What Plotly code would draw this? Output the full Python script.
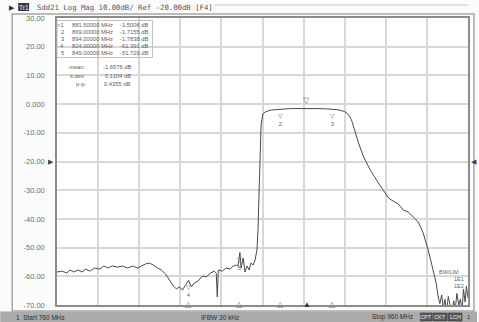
import plotly.graph_objects as go

# ---- data ----
freq_mhz = [760.0, 762.4, 764.8, 766.3, 768.2, 770.2, 772.1, 774.0, 776.0, 778.4,
            780.8, 782.8, 784.7, 787.1, 789.5, 792.0, 794.4, 796.8, 799.2, 801.2,
            803.1, 805.0, 807.0, 808.9, 810.8, 812.8, 814.7, 816.7, 818.1, 819.6,
            821.0, 822.5, 824.0, 825.4, 826.8, 828.8, 830.7, 832.6, 834.6, 836.5,
            837.5, 838.0, 838.5, 840.4, 842.3, 844.3, 845.7, 847.2, 848.1, 849.0,
            849.6, 850.6, 851.5, 852.5, 853.5, 854.4, 855.4, 856.4, 857.3, 857.8,
            858.3, 858.8, 859.3, 860.2, 861.7, 864.0, 866.5, 869.0, 872.0, 875.0,
            878.0, 881.5, 885.0, 888.0, 891.0, 894.0, 897.0, 900.0, 902.0, 903.3,
            904.3, 906.7, 909.2, 912.5, 916.4, 921.3, 922.7, 926.1, 928.5, 930.9,
            934.3, 935.8, 938.2, 940.6, 943.0, 944.5, 945.5, 946.3, 947.2, 948.0,
            948.8, 949.6, 950.4, 951.3, 952.1, 953.0, 953.8, 954.6, 955.5, 956.3,
            957.1, 957.8, 958.6, 959.2, 960.0]
s21_db = [-58.5, -58.2, -58.9, -57.8, -58.5, -57.8, -58.5, -57.5, -58.2, -57.1,
          -57.5, -56.4, -57.1, -56.4, -56.8, -56.4, -57.1, -56.4, -57.1, -56.4,
          -55.7, -55.4, -56.1, -57.1, -57.8, -59.2, -61.3, -63.4, -64.4, -63.7,
          -64.8, -63.0, -61.4, -63.7, -62.3, -61.6, -59.9, -60.2, -58.9, -58.2,
          -58.9, -67.2, -57.8, -58.2, -57.1, -57.5, -56.4, -56.1, -56.4, -51.7,
          -57.1, -53.6, -58.5, -56.4, -57.8, -55.4, -56.1, -54.3, -50.8, -43.9,
          -29.9, -16.0, -7.3, -3.4, -2.6, -2.1, -1.9, -1.72, -1.62, -1.55,
          -1.50, -1.50, -1.52, -1.58, -1.66, -1.78, -2.0, -2.6, -3.8, -5.5,
          -8.0, -13.5, -18.4, -23.0, -27.5, -32.7, -33.4, -34.8, -36.9, -37.6,
          -40.0, -41.1, -44.9, -50.8, -57.8, -62.3, -67.2, -69.5, -66.5, -71.0,
          -68.0, -72.5, -67.0, -70.5, -73.0, -68.5, -71.5, -66.0, -70.0, -68.0,
          -72.0, -64.5, -69.0, -63.5, -67.5]

marker_ids = ["1", "2", "3", "4", "5"]
marker_freq = [881.5, 869.0, 894.0, 824.0, 849.0]
marker_db = [-1.5006, -1.7155, -1.7838, -61.391, -51.729]
marker_freq_text = ["881.50000", "869.00000", "894.00000", "824.00000", "849.00000"]
marker_db_text = ["-1.5006", "-1.7155", "-1.7838", "-61.391", "-51.729"]

stats_labels = ["mean:", "s.dev:", "p-p:"]
stats_values = ["-1.6576", "0.1104", "0.4355"]

ytick_vals = [30, 20, 10, 0, -10, -20, -30, -40, -50, -60, -70]
ytick_text = ["30.00", "20.00", "10.00", "0.000", "-10.00", "-20.00", "-30.00",
              "-40.00", "-50.00", "-60.00", "-70.00"]
xgrid_vals = [760, 780, 800, 820, 840, 860, 880, 900, 920, 940, 960]

title_text = "Sdd21 Log Mag 10.00dB/ Ref -20.00dB [F4]"
status_left = "1  Start 760 MHz"
status_mid = "IFBW 30 kHz"
status_right = "Stop 960 MHz"
status_boxes = ["CPT", "CKT", "LCH"]

# ---- layout geometry (pixels) ----
W, H = 479, 322
L, R, T, B = 57, 470, 18, 305


def px(x):
    return (x - L) / (R - L)


def py(y):
    return (B - y) / (B - T)


GRAY_TXT = "#6e6e6e"
MONO = "DejaVu Sans Mono"
SANS = "Liberation Sans"
TBL = dict(size=5.8, color="#5e5e5e", family=SANS)

fig = go.Figure()
fig.add_trace(go.Scatter(x=freq_mhz, y=s21_db, mode="lines",
                         line=dict(color="#4a4a4a", width=1), hoverinfo="skip",
                         showlegend=False))

ann = []
shapes = []

# outer frame
shapes.append(dict(type="rect", xref="paper", yref="paper", x0=px(12), x1=px(476),
                   y0=py(311), y1=py(14), line=dict(color="#a8a8a8", width=1.5),
                   fillcolor="rgba(0,0,0,0)", layer="below"))
shapes.append(dict(type="line", xref="paper", yref="paper", x0=px(215), x1=px(470),
                   y0=py(5), y1=py(5), line=dict(color="#c8c8c8", width=1)))
# status bar
shapes.append(dict(type="rect", xref="paper", yref="paper", x0=px(0), x1=px(479),
                   y0=py(322), y1=py(311.5), line=dict(width=0), fillcolor="#ababab"))
# title: Tr1 tag
shapes.append(dict(type="rect", xref="paper", yref="paper", x0=px(18), x1=px(29),
                   y0=py(11), y1=py(3), line=dict(width=0), fillcolor="#3a3a3a"))
ann.append(dict(x=px(17), y=py(7), text="▶", xanchor="right", yanchor="middle",
                font=dict(size=7, color="#333")))
ann.append(dict(x=px(23.5), y=py(7), text="Tr1", xanchor="center", yanchor="middle",
                font=dict(size=6.5, color="#eeeeee", family=SANS)))
ann.append(dict(x=px(35), y=py(7), text=title_text, xanchor="left", yanchor="middle",
                font=dict(size=7.3, color="#555", family=MONO)))

# marker table
row_y = [25, 32, 39.3, 46.5, 53.5]
for i in range(5):
    lab = (">" if i == 0 else "") + marker_ids[i]
    ann.append(dict(x=px(66), y=py(row_y[i]), text=lab, xanchor="right", yanchor="middle",
                    font=TBL))
    ann.append(dict(x=px(70), y=py(row_y[i]), text=marker_freq_text[i] + " MHz",
                    xanchor="left", yanchor="middle", font=TBL))
    ann.append(dict(x=px(150), y=py(row_y[i]), text=marker_db_text[i] + " dB",
                    xanchor="right", yanchor="middle", font=TBL))
shapes.append(dict(type="rect", xref="paper", yref="paper", x0=px(57), x1=px(153),
                   y0=py(57.5), y1=py(20.5), line=dict(color="#c0c0c0", width=1),
                   fillcolor="rgba(255,255,255,0)"))

# statistics
stat_y = [67, 75.5, 84]
for i in range(3):
    ann.append(dict(x=px(88), y=py(stat_y[i]), text=stats_labels[i], xanchor="right",
                    yanchor="middle", font=TBL))
    ann.append(dict(x=px(133), y=py(stat_y[i]), text=stats_values[i] + " dB",
                    xanchor="right", yanchor="middle", font=TBL))

# on-trace markers
for i in range(5):
    if i == 0:
        ann.append(dict(x=marker_freq[i], y=marker_db[i], xref="x", yref="y", text="▽",
                        xanchor="center", yanchor="bottom", yshift=1,
                        font=dict(size=8, color="#666")))
    else:
        ann.append(dict(x=marker_freq[i], y=marker_db[i], xref="x", yref="y",
                        text="▽<br>" + marker_ids[i], xanchor="center", yanchor="top",
                        yshift=-2, font=dict(size=6, color="#666", family=SANS)))
    # stimulus markers on the bottom axis
    ann.append(dict(x=marker_freq[i], y=-70, xref="x", yref="y",
                    text="▲" if i == 0 else "△", xanchor="center", yanchor="middle",
                    yshift=2, font=dict(size=8, color="#333" if i == 0 else "#777")))

# reference level arrows
ann.append(dict(x=px(56), y=py(161.5), text="▶", xanchor="right", yanchor="middle",
                font=dict(size=7, color="#444")))
ann.append(dict(x=px(471), y=py(161.5), text="◀", xanchor="left", yanchor="middle",
                font=dict(size=7, color="#444")))

# limit / status label near the floor
ann.append(dict(x=px(439), y=py(272), text="BW/LIM", xanchor="left", yanchor="middle",
                font=dict(size=5.5, color="#666", family=SANS)))
ann.append(dict(x=px(468), y=py(279), text="1E1", xanchor="right", yanchor="middle",
                font=dict(size=5.5, color="#666", family=SANS)))
ann.append(dict(x=px(468), y=py(286), text="1E2", xanchor="right", yanchor="middle",
                font=dict(size=5.5, color="#666", family=SANS)))

# status bar text
ann.append(dict(x=px(14), y=py(317), text=status_left, xanchor="left", yanchor="middle",
                font=dict(size=6.5, color="#2e2e2e", family=SANS)))
ann.append(dict(x=px(200), y=py(317), text=status_mid, xanchor="left", yanchor="middle",
                font=dict(size=6.5, color="#2e2e2e", family=SANS)))
ann.append(dict(x=px(372), y=py(317), text=status_right, xanchor="left", yanchor="middle",
                font=dict(size=6.5, color="#2e2e2e", family=SANS)))
box_x = [(422, 434), (435, 449), (450, 464)]
for (a, b), t in zip(box_x, status_boxes):
    shapes.append(dict(type="rect", xref="paper", yref="paper", x0=px(a), x1=px(b),
                       y0=py(321), y1=py(313), line=dict(color="#333", width=0.5),
                       fillcolor="#5a5a5a"))
    ann.append(dict(x=px((a + b) / 2), y=py(317), text=t, xanchor="center",
                    yanchor="middle", font=dict(size=5.5, color="#e8e8e8", family=SANS)))
ann.append(dict(x=px(467), y=py(317), text="1", xanchor="left", yanchor="middle",
                font=dict(size=6, color="#2e2e2e", family=SANS)))

for a in ann:
    a.setdefault("xref", "paper")
    a.setdefault("yref", "paper")
    a["showarrow"] = False

fig.update_layout(
    width=W, height=H,
    margin=dict(l=L, r=W - R, t=T, b=H - B, pad=0),
    paper_bgcolor="#fbfbfb", plot_bgcolor="#ffffff",
    annotations=ann, shapes=shapes,
    xaxis=dict(range=[760, 960], tickvals=xgrid_vals, showticklabels=False,
               showgrid=True, gridcolor="#d8d8d8", gridwidth=1.5, zeroline=False,
               showline=True, linecolor="#8c8c8c", linewidth=1.5, mirror=True,
               ticks=""),
    yaxis=dict(range=[-70, 30], tickvals=ytick_vals, ticktext=ytick_text,
               showgrid=True, gridcolor="#d8d8d8", gridwidth=1.5, zeroline=False,
               showline=True, linecolor="#8c8c8c", linewidth=1.5, mirror=True,
               ticks="", ticklabelstandoff=9,
               tickfont=dict(size=7.5, color=GRAY_TXT, family=SANS)),
    showlegend=False,
)

fig.write_html("out.html", config={"displayModeBar": False},
               post_script="document.body.style.margin='0';"
                           "document.body.style.overflow='hidden';")
